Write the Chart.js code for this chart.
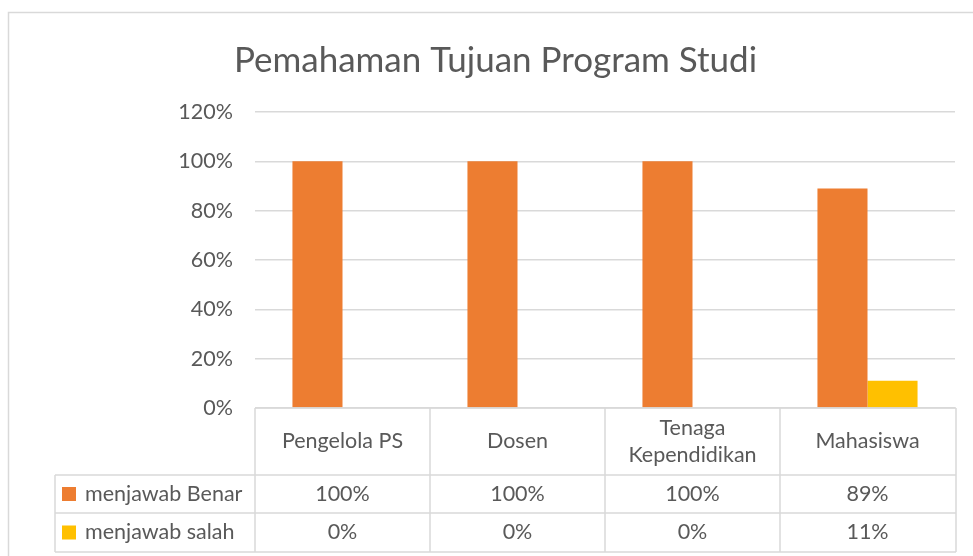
<!DOCTYPE html>
<html>
<head>
<meta charset="utf-8">
<script src="https://cdn.jsdelivr.net/npm/chart.js@4.4.1/dist/chart.umd.min.js"></script>
<style>
  html, body { margin: 0; padding: 0; background: #fff; }
  #chart { display: block; }
</style>
</head>
<body>
<canvas id="chart" width="973" height="556"></canvas>
<script>
//// data
const categories = ['Pengelola PS', 'Dosen', ['Tenaga', 'Kependidikan'], 'Mahasiswa'];
const seriesNames = ['menjawab Benar', 'menjawab salah'];
const benarValues = [1.00, 1.00, 1.00, 0.89];
const salahValues = [0.00, 0.00, 0.00, 0.11];
const seriesColors = ['#ED7D31', '#FFC000'];

const textColor = '#595959';
const lineColor = '#d9d9d9';
const fontFamily = 'Lato, "Open Sans", sans-serif';
const labelSize = 21.5;

function pct(v) {
  return Math.round(v * 100) + '%';
}

//// plugins
// light frame around the whole chart, like the office chart area
const frameBorder = {
  id: 'frameBorder',
  beforeDraw(chart) {
    const ctx = chart.ctx;
    ctx.save();
    ctx.strokeStyle = lineColor;
    ctx.lineWidth = 1.5;
    ctx.strokeRect(8.5, 12.5, 1200, 800);
    ctx.restore();
  }
};

// data table under the x axis, with legend keys in the first column
const dataTable = {
  id: 'dataTable',
  afterDraw(chart) {
    const ctx = chart.ctx;
    const x = chart.scales.x;
    const area = chart.chartArea;
    const half = (x.getPixelForValue(1) - x.getPixelForValue(0)) / 2;
    const left = area.left;
    const right = area.right + 1;
    const rowTop = area.bottom;
    const row1 = rowTop + 67;
    const row2 = row1 + 38;
    const row3 = row2 + 39;
    const legendLeft = 55;

    ctx.save();
    ctx.strokeStyle = lineColor;
    ctx.lineWidth = 1.5;
    ctx.beginPath();
    ctx.moveTo(left, rowTop); ctx.lineTo(right, rowTop);
    [row1, row2, row3].forEach(y => { ctx.moveTo(legendLeft, y); ctx.lineTo(right, y); });
    ctx.moveTo(legendLeft, row1); ctx.lineTo(legendLeft, row3);
    for (let i = 0; i <= categories.length; i++) {
      const px = i < categories.length ? x.getPixelForValue(i) - half : right;
      ctx.moveTo(px, rowTop); ctx.lineTo(px, row3);
    }
    ctx.stroke();

    ctx.fillStyle = textColor;
    ctx.font = labelSize + 'px ' + fontFamily;
    ctx.textAlign = 'center';
    ctx.textBaseline = 'middle';
    categories.forEach((cat, i) => {
      const cx = x.getPixelForValue(i);
      const lines = Array.isArray(cat) ? cat : [cat];
      const mid = (rowTop + row1) / 2;
      lines.forEach((ln, j) => {
        ctx.fillText(ln, cx, mid + (j - (lines.length - 1) / 2) * 27);
      });
    });

    const rows = [[benarValues, row1, row2], [salahValues, row2, row3]];
    rows.forEach(([vals, y0, y1], s) => {
      const my = (y0 + y1) / 2;
      ctx.textAlign = 'center';
      vals.forEach((v, i) => ctx.fillText(pct(v), x.getPixelForValue(i), my));
      ctx.fillStyle = seriesColors[s];
      ctx.fillRect(62, my - 7, 14, 14);
      ctx.fillStyle = textColor;
      ctx.textAlign = 'left';
      ctx.fillText(seriesNames[s], 85, my);
    });
    ctx.restore();
  }
};

//// chart
const ctx = document.getElementById('chart').getContext('2d');
new Chart(ctx, {
  type: 'bar',
  data: {
    labels: categories,
    datasets: [
      { label: seriesNames[0], data: benarValues, backgroundColor: seriesColors[0] },
      { label: seriesNames[1], data: salahValues, backgroundColor: seriesColors[1] }
    ]
  },
  options: {
    responsive: false,
    animation: false,
    categoryPercentage: 0.572,
    barPercentage: 1.0,
    layout: { padding: { left: 18, right: 0, top: 0, bottom: 0 } },
    plugins: {
      legend: { display: false },
      tooltip: { enabled: false },
      title: {
        display: true,
        text: 'Pemahaman Tujuan Program Studi',
        color: textColor,
        font: { family: fontFamily, size: 35, weight: 'normal' },
        padding: { top: 40, bottom: 30 }
      }
    },
    scales: {
      x: {
        ticks: { display: false },
        grid: { display: false },
        border: { display: false },
        afterFit(scale) { scale.height = 148; }
      },
      y: {
        min: 0,
        max: 1.2,
        ticks: {
          stepSize: 0.2,
          color: textColor,
          padding: 22,
          font: { family: fontFamily, size: labelSize },
          callback: v => pct(v)
        },
        grid: { color: lineColor, lineWidth: 1.5, drawTicks: false },
        border: { display: false },
        afterFit(scale) { scale.width = 237; }
      },
      // empty right-hand axis, only keeps the plot clear of the right edge
      yRight: {
        position: 'right',
        ticks: { display: false },
        grid: { display: false, drawOnChartArea: false },
        border: { display: false },
        afterFit(scale) { scale.width = 18; }
      }
    }
  },
  plugins: [frameBorder, dataTable]
});
</script>
</body>
</html>
